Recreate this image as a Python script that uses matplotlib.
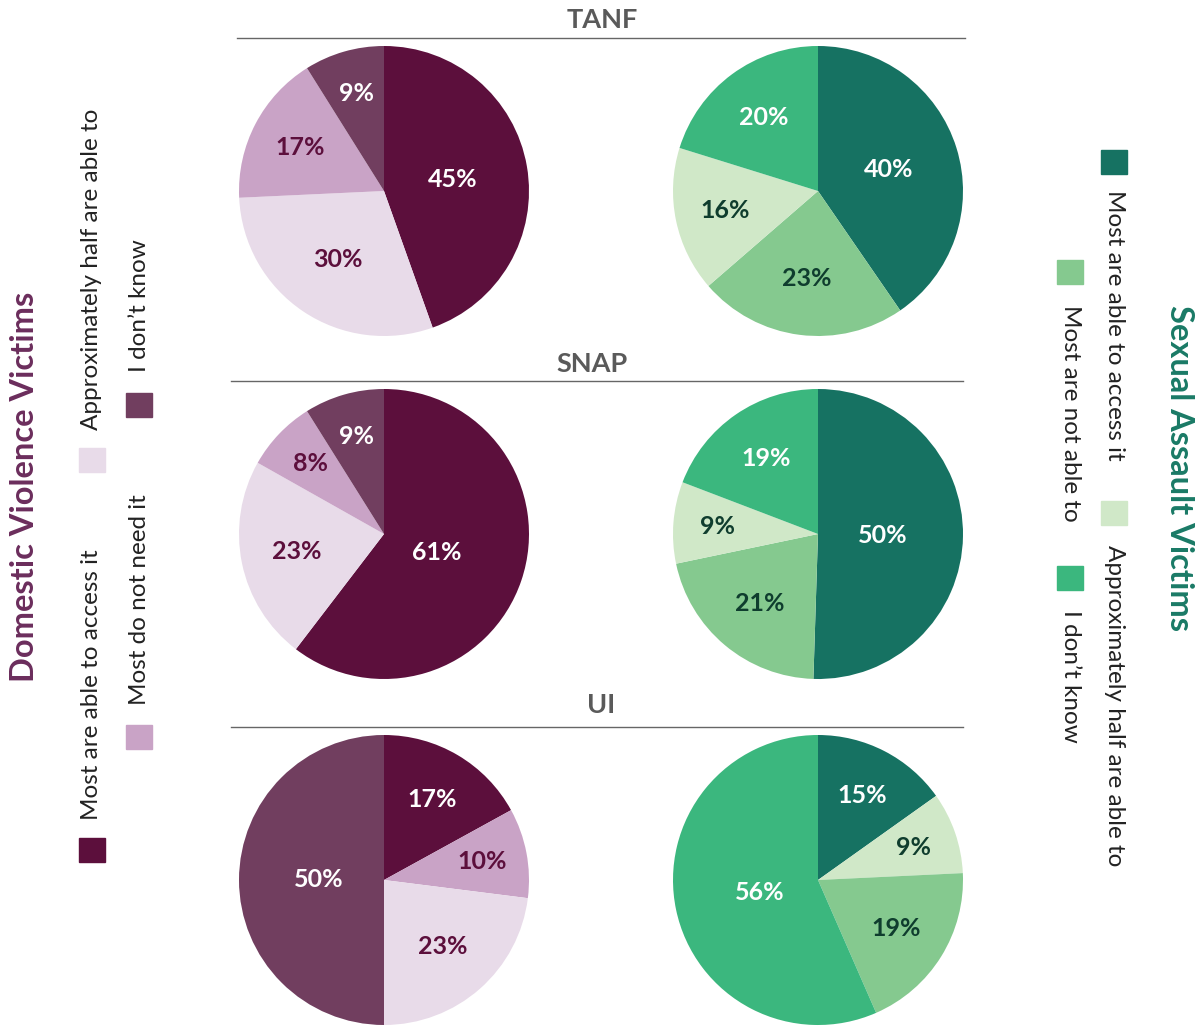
import matplotlib
matplotlib.use("Agg")
import matplotlib.pyplot as plt
from matplotlib.patches import Rectangle
from matplotlib.lines import Line2D
import numpy as np

plt.rcParams['font.family'] = ['Lato', 'DejaVu Sans']

# ---- data ----
programs = ["TANF", "SNAP", "UI"]

dv_labels = ["Most are able to access it", "Approximately half are able to",
             "Most do not need it", "I don\u2019t know"]
dv_colors = ["#5c0f3c", "#e8dbe9", "#c9a3c6", "#713e5f"]
dv_text = ["white", "#5c0f3c", "#5c0f3c", "white"]
# slices clockwise from top: (category index, value)
dv_tanf = [(0, 45), (1, 30), (2, 17), (3, 9)]
dv_snap = [(0, 61), (1, 23), (2, 8), (3, 9)]
dv_ui = [(0, 17), (2, 10), (1, 23), (3, 50)]

sa_labels = ["Most are able to access it", "Approximately half are able to",
             "Most are not able to", "I don\u2019t know"]
sa_colors = ["#167262", "#d0e8c8", "#85c98f", "#3bb77e"]
sa_text = ["white", "#0f3d2e", "#0f3d2e", "white"]
sa_tanf = [(0, 40), (2, 23), (1, 16), (3, 20)]
sa_snap = [(0, 50), (2, 21), (1, 9), (3, 19)]
sa_ui = [(0, 15), (1, 9), (2, 19), (3, 56)]

W, H = 1201, 1026
fig = plt.figure(figsize=(W / 100, H / 100), dpi=100)


def fx(x):
    return x / W


def fy(y):
    return 1 - y / H


def draw_pie(cx, cy, r, slices, colors, tcolors):
    ax = fig.add_axes([fx(cx - r), fy(cy + r), 2 * r / W, 2 * r / H])
    cats = [c for c, _ in slices]
    vals = np.array([v for _, v in slices], dtype=float)
    wedges, _ = ax.pie(vals, colors=[colors[c] for c in cats], startangle=90,
                       counterclock=False, radius=1,
                       wedgeprops=dict(linewidth=0))
    fracs = vals / vals.sum()
    for w, c, v, f in zip(wedges, cats, vals, fracs):
        ang = np.deg2rad((w.theta1 + w.theta2) / 2)
        d = 0.75 - 0.6 * f
        ax.text(d * np.cos(ang), d * np.sin(ang), f"{int(v)}%",
                ha="center", va="center", fontsize=18, fontweight="bold",
                color=tcolors[c])
    ax.set_xlim(-1, 1)
    ax.set_ylim(-1, 1)
    ax.set_aspect("equal")
    ax.axis("off")


rows_y = [191, 534, 880]
for y, dv, sa in zip(rows_y, [dv_tanf, dv_snap, dv_ui], [sa_tanf, sa_snap, sa_ui]):
    draw_pie(384, y, 145, dv, dv_colors, dv_text)
    draw_pie(818, y, 145, sa, sa_colors, sa_text)

# section headers with rules
headers = [(602, 20, 38, 237, 965), (592, 364, 381, 231, 963), (601, 705, 727, 231, 963)]
for name, (tx, ty, ly, x0, x1) in zip(programs, headers):
    fig.text(fx(tx), fy(ty), name, ha="center", va="center", fontsize=19.5,
             fontweight="bold", color="#5a5a5a")
    fig.add_artist(Line2D([fx(x0), fx(x1)], [fy(ly), fy(ly)], color="#666666", lw=1))

# left legend (reads bottom to top)
fig.text(fx(25), fy(487), "Domestic Violence Victims", rotation=90, ha="center",
         va="center", fontsize=23.5, fontweight="bold", color="#6b2d5c")
left_items = [(0, 92, 850, 820), (1, 92, 460, 430), (2, 139, 737, 705), (3, 139, 405, 372)]
for i, x, sy, ty in left_items:
    fig.add_artist(Rectangle((fx(x - 13), fy(sy + 12)), 26 / W, 24 / H,
                             color=dv_colors[i], transform=fig.transFigure))
    fig.text(fx(x), fy(ty), dv_labels[i], rotation=90, rotation_mode="anchor",
             ha="left", va="center", fontsize=17.5, color="#222222")

# right legend (reads top to bottom)
fig.text(fx(1180), fy(468), "Sexual Assault Victims", rotation=-90, ha="center",
         va="center", fontsize=23.5, fontweight="bold", color="#1a7a66")
right_items = [(0, 1114, 162, 190), (1, 1114, 513, 545), (2, 1070, 272, 305), (3, 1070, 578, 610)]
for i, x, sy, ty in right_items:
    fig.add_artist(Rectangle((fx(x - 13), fy(sy + 12)), 26 / W, 24 / H,
                             color=sa_colors[i], transform=fig.transFigure))
    fig.text(fx(x), fy(ty), sa_labels[i], rotation=-90, rotation_mode="anchor",
             ha="left", va="center", fontsize=17.5, color="#222222")

fig.savefig("out.png", dpi=100)
